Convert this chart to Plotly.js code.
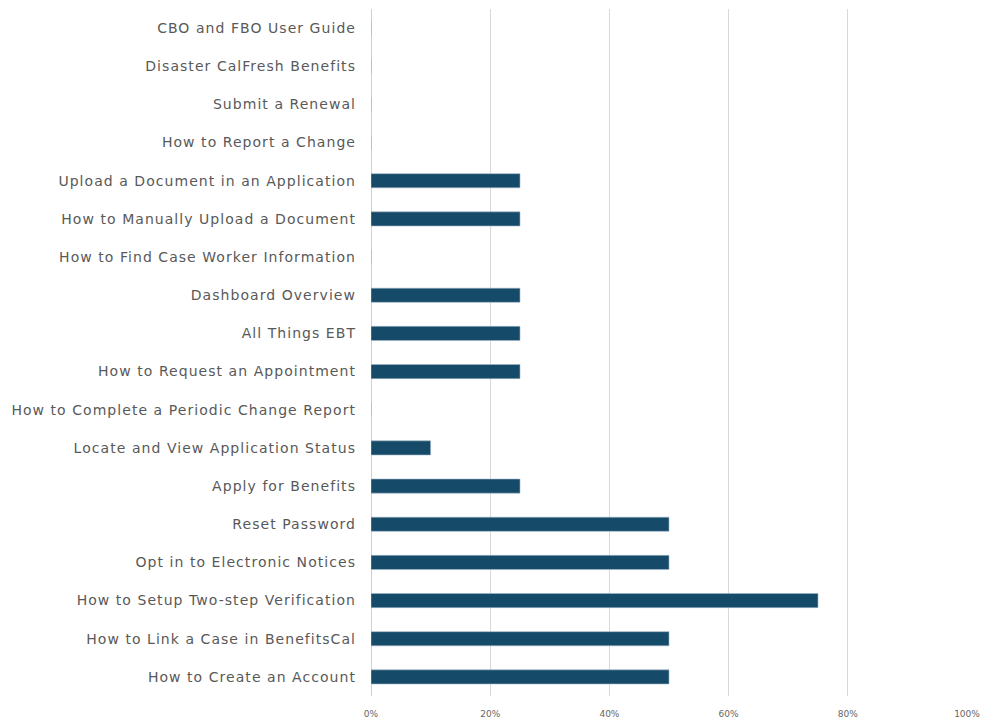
<!DOCTYPE html>
<html>
<head>
<meta charset="utf-8">
<script src="https://cdn.plot.ly/plotly-3.0.1.min.js"></script>
<style>
html,body{margin:0;padding:0;background:#fff;}
#chart{width:985px;height:721px;}
#chart .ytick text{letter-spacing:1.05px;}
</style>
</head>
<body>
<div id="chart"></div>
<script>
const categories = [
  "How to Create an Account",
  "How to Link a Case in BenefitsCal",
  "How to Setup Two-step Verification",
  "Opt in to Electronic Notices",
  "Reset Password",
  "Apply for Benefits",
  "Locate and View Application Status",
  "How to Complete a Periodic Change Report",
  "How to Request an Appointment",
  "All Things EBT",
  "Dashboard Overview",
  "How to Find Case Worker Information",
  "How to Manually Upload a Document",
  "Upload a Document in an Application",
  "How to Report a Change",
  "Submit a Renewal",
  "Disaster CalFresh Benefits",
  "CBO and FBO User Guide"
];
const values = [50, 50, 75, 50, 50, 25, 10, 0, 25, 25, 25, 0, 25, 25, 0, 0, 0, 0];
const tickValues = [0, 20, 40, 60, 80, 100];
const tickLabels = ["0%", "20%", "40%", "60%", "80%", "100%"];

const trace = {
  type: "bar",
  orientation: "h",
  y: categories,
  x: values,
  width: 0.37,
  marker: {color: "#154a69", line: {color: "#9fb6c6", width: 0.6}},
  hoverinfo: "x+y"
};

const layout = {
  width: 985,
  height: 721,
  margin: {l: 371, r: 18, t: 9, b: 25},
  paper_bgcolor: "#ffffff",
  plot_bgcolor: "#ffffff",
  showlegend: false,
  font: {family: "DejaVu Sans, sans-serif", color: "#595959"},
  xaxis: {
    range: [0, 100],
    tickvals: tickValues,
    ticktext: tickLabels,
    showgrid: true,
    gridcolor: "#d9d9d9",
    gridwidth: 1,
    zeroline: true,
    zerolinecolor: "#d0d0d0",
    zerolinewidth: 1,
    showline: false,
    tickfont: {size: 9, color: "#666666"},
    ticks: "",
    ticklabelstandoff: 11,
    fixedrange: true
  },
  yaxis: {
    type: "category",
    categoryorder: "array",
    categoryarray: categories,
    showgrid: false,
    zeroline: false,
    showline: false,
    ticks: "",
    ticklabelstandoff: 14,
    tickfont: {size: 14, color: "#595959", family: "DejaVu Sans, sans-serif"},
    fixedrange: true
  }
};

Plotly.newPlot("chart", [trace], layout, {displayModeBar: false, staticPlot: true});
</script>
</body>
</html>
